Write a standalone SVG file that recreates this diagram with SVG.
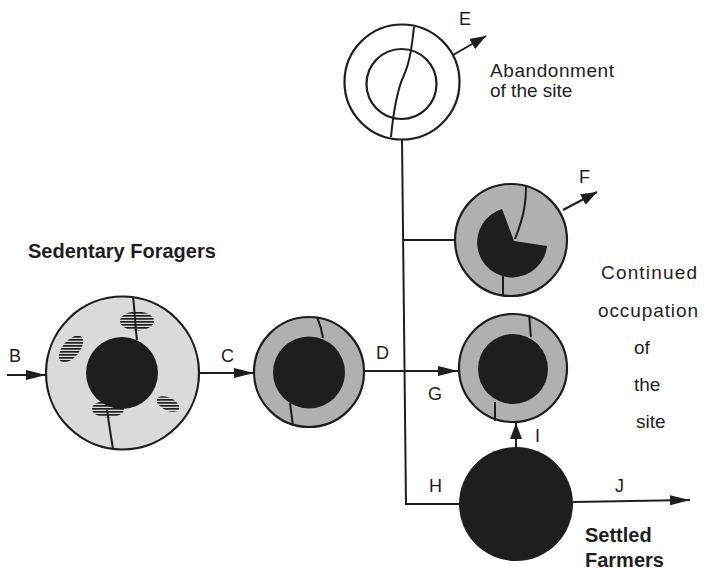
<svg xmlns="http://www.w3.org/2000/svg" width="704" height="570" viewBox="0 0 704 570">
<style>
.ol{stroke:#1e1e1e;stroke-width:2.2;}
.crack{fill:none;stroke:#1e1e1e;stroke-width:2;}
.line{fill:none;stroke:#1e1e1e;stroke-width:2;}
.lt{fill:#dadada;}
.md{fill:#b0b0b0;}
.dk{fill:#1e1e1e;}
.lbl{font-family:"Liberation Sans",Arial,sans-serif;font-size:18px;fill:#1e1e1e;}
.txt{font-family:"Liberation Sans",Arial,sans-serif;font-size:19px;fill:#1e1e1e;}
.btxt{font-family:"Liberation Sans",Arial,sans-serif;font-size:20px;font-weight:bold;fill:#1e1e1e;}
</style>
<defs>
<marker id="ah" viewBox="0 0 20 10" refX="20" refY="5" markerWidth="20" markerHeight="10" orient="auto" markerUnits="userSpaceOnUse">
<path d="M0,0 L20,5 L0,10 Z" fill="#1e1e1e"/>
</marker>
<marker id="ahs" viewBox="0 0 16 12" refX="16" refY="6" markerWidth="16" markerHeight="12" orient="auto" markerUnits="userSpaceOnUse">
<path d="M0,0 L16,6 L0,12 Z" fill="#1e1e1e"/>
</marker>
<pattern id="hatch" patternUnits="userSpaceOnUse" width="6" height="3">
<rect x="0" y="0" width="6" height="1.7" fill="#1e1e1e"/>
</pattern>
<clipPath id="cp1"><ellipse cx="137" cy="321" rx="17" ry="9.5"/></clipPath>
<clipPath id="cp2"><ellipse cx="71" cy="349" rx="16" ry="8.5" transform="rotate(-50 71 349)"/></clipPath>
<clipPath id="cp3"><ellipse cx="108" cy="409" rx="16" ry="8.5"/></clipPath>
<clipPath id="cp4"><ellipse cx="168" cy="404" rx="12" ry="6.5" transform="rotate(25 168 404)"/></clipPath>
</defs>
<rect width="704" height="570" fill="#ffffff"/>

<g id="connectors">
<line class="line" x1="7" y1="375" x2="46" y2="375" marker-end="url(#ah)"/>
<line class="line" x1="199" y1="373" x2="254" y2="373" marker-end="url(#ah)"/>
<line class="line" x1="364" y1="371" x2="458" y2="371" marker-end="url(#ah)"/>
<polyline class="line" points="402,138 406,504 459,504"/>
<line class="line" x1="404" y1="240" x2="455" y2="240"/>
<line class="line" x1="453" y1="55" x2="486" y2="36" marker-end="url(#ahs)"/>
<line class="line" x1="563" y1="210" x2="597" y2="192" marker-end="url(#ahs)"/>
<line class="line" x1="516" y1="447" x2="516" y2="423" marker-end="url(#ahs)"/>
<line class="line" x1="573" y1="502" x2="690" y2="500" marker-end="url(#ah)"/>
<text class="lbl" x="9" y="362">B</text>
<text class="lbl" x="221" y="362">C</text>
<text class="lbl" x="376" y="359">D</text>
<text class="lbl" x="459" y="25">E</text>
<text class="lbl" x="579" y="183">F</text>
<text class="lbl" x="428" y="400">G</text>
<text class="lbl" x="429" y="492">H</text>
<text class="lbl" x="535" y="442">I</text>
<text class="lbl" x="615" y="492">J</text>
</g>

<g id="sedentary-foragers">
<circle class="ol lt" cx="122.5" cy="373" r="76.5"/>
<circle class="dk" cx="122" cy="373" r="36"/>
<rect x="115" y="308" width="45" height="26" fill="url(#hatch)" clip-path="url(#cp1)"/>
<rect x="50" y="328" width="45" height="42" fill="url(#hatch)" clip-path="url(#cp2)"/>
<rect x="88" y="398" width="42" height="24" fill="url(#hatch)" clip-path="url(#cp3)"/>
<rect x="152" y="394" width="32" height="22" fill="url(#hatch)" clip-path="url(#cp4)"/>
<path class="crack" d="M133,297 C135,312 135,326 137,340"/>
<path class="crack" d="M107,410 C109,424 111,437 113,449"/>
<text class="btxt" x="28" y="258">Sedentary Foragers</text>
</g>

<g id="site-c">
<circle class="ol md" cx="309" cy="372" r="55"/>
<circle class="dk" cx="309" cy="372.5" r="36"/>
<path class="crack" d="M317,317 C320,324 322,331 323,338"/>
<path class="crack" d="M290,403 C291,411 292,418 293,426"/>
</g>

<g id="abandonment-e">
<circle class="ol" cx="402" cy="82" r="57.5" fill="#ffffff"/>
<circle class="ol" cx="401.5" cy="84" r="35" fill="none"/>
<path class="crack" d="M414,27 C412,45 410,62 404,75 C398,88 394,105 391,137"/>
<text class="txt" x="490" y="77" textLength="124" lengthAdjust="spacing">Abandonment</text>
<text class="txt" x="490" y="97">of the site</text>
</g>

<g id="site-f">
<circle class="ol md" cx="511" cy="240" r="56"/>
<path class="dk" d="M514,241 L547,246 A35,35 0 1 1 502,209 Z"/>
<path class="crack" d="M526,185 C526,200 525,214 515,239"/>
<path class="crack" d="M503,276 L503,296"/>
</g>

<g id="site-g">
<circle class="ol md" cx="513" cy="368" r="54"/>
<circle class="dk" cx="513" cy="369" r="35"/>
<path class="crack" d="M529,315 C530,322 530,330 531,337"/>
<path class="crack" d="M495,402 L495,421"/>
</g>

<g id="continued-occupation">
<text class="txt" x="601" y="279" textLength="96" lengthAdjust="spacing">Continued</text>
<text class="txt" x="598" y="317" textLength="100" lengthAdjust="spacing">occupation</text>
<text class="txt" x="634" y="354">of</text>
<text class="txt" x="634" y="391">the</text>
<text class="txt" x="636" y="428">site</text>
</g>

<g id="settled-farmers">
<circle class="dk" cx="516" cy="504" r="57"/>
<text class="btxt" x="585" y="542">Settled</text>
<text class="btxt" x="585" y="567">Farmers</text>
</g>
</svg>
